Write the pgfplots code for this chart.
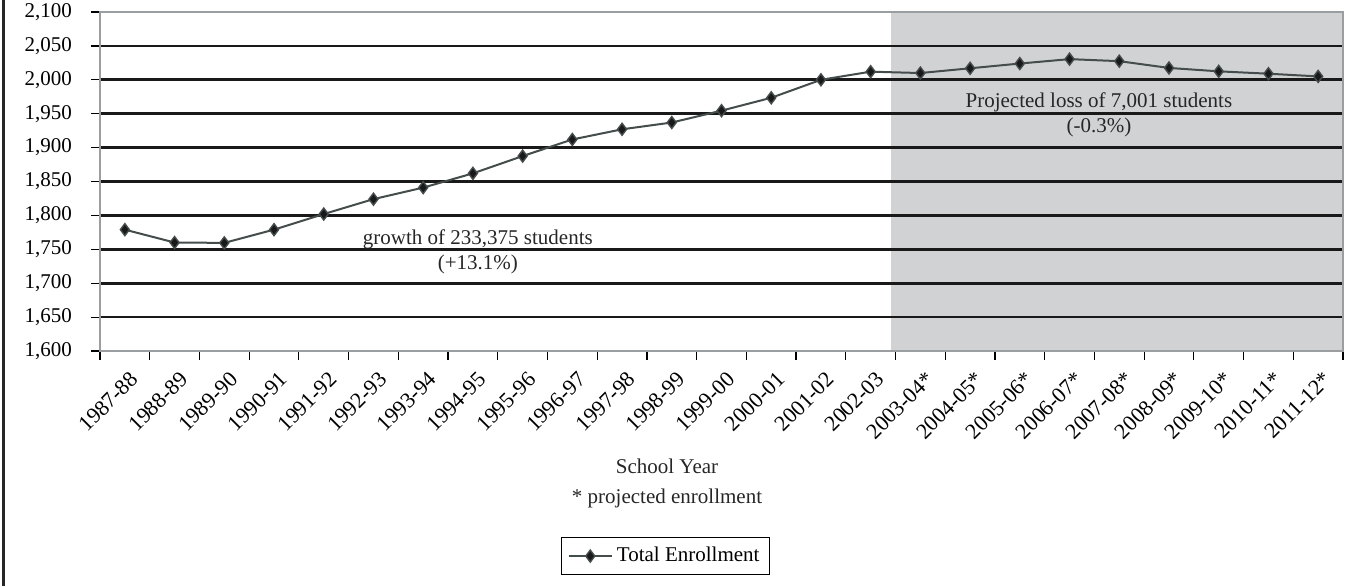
\documentclass[border=0pt]{standalone}
\usepackage{pgfplots}
\pgfplotsset{compat=1.18}
\usepackage{fontspec}
\setmainfont{Liberation Serif}
\definecolor{shade}{HTML}{D1D2D4}
\definecolor{axgray}{HTML}{9A9EA0}
\definecolor{linec}{HTML}{444C4C}
\begin{document}
\begin{tikzpicture}
\begin{axis}[
  at={(50pt,117.5pt)}, anchor=south west,
  scale only axis, width=621.5pt, height=169.5pt,
  xmin=0, xmax=25, ymin=1600, ymax=2100,
  set layers,
  axis line style={axgray, line width=1.2pt},
  font=\fontsize{10.5}{12.5}\selectfont,
  ytick={1600,1650,...,2100},
  extra y ticks={1650,1700,...,2050},
  extra y tick labels={},
  extra y tick style={grid=major},
  grid style={black!90, line width=1.35pt},
  xtick={0.5,1.5,...,24.5},
  xticklabels={1987-88,1988-89,1989-90,1990-91,1991-92,1992-93,1993-94,1994-95,1995-96,1996-97,1997-98,1998-99,1999-00,2000-01,2001-02,2002-03,2003-04*,2004-05*,2005-06*,2006-07*,2007-08*,2008-09*,2009-10*,2010-11*,2011-12*},
  minor xtick={0,1,...,25},
  major x tick style={draw=none},
  tick pos=left,
  tick align=outside, major tick length=4.5pt, minor tick length=4.5pt,
  tick style={black, line width=0.6pt},
  xticklabel style={rotate=45, anchor=north east, inner sep=1pt, yshift=-4pt, xshift=-1pt, font=\fontsize{11}{13}\selectfont},
  yticklabel style={xshift=-6pt, /pgf/number format/assume math mode=true, /pgf/number format/1000 sep={,}},
  legend style={at={(0.455,-0.605)}, anchor=center, draw=black, line width=0.6pt, font=\fontsize{10.5}{12.5}\selectfont, inner sep=3pt},
  legend image code/.code={\draw[mark repeat=2,mark phase=2,#1] plot coordinates {(0cm,0cm) (0.38cm,0cm) (0.76cm,0cm)};},
]
\begin{pgfonlayer}{axis background}
\addplot[fill=shade, draw=none, forget plot] coordinates {(15.9,1600) (15.9,2100) (25,2100) (25,1600)};
\end{pgfonlayer}
\addplot[linec, line width=1pt, mark=diamond*, mark size=3pt, mark options={fill=black!90, draw=linec, line width=0.7pt}] coordinates {
(0.5,1779) (1.5,1760) (2.5,1759.5) (3.5,1779) (4.5,1802) (5.5,1824) (6.5,1841) (7.5,1862) (8.5,1887.5) (9.5,1912) (10.5,1927) (11.5,1937) (12.5,1954.5) (13.5,1973.5) (14.5,2000) (15.5,2012)
(16.5,2010) (17.5,2017) (18.5,2024) (19.5,2030.5) (20.5,2027.5) (21.5,2017.5) (22.5,2012.5) (23.5,2009) (24.5,2005)};
\addlegendentry{Total Enrollment}
\node[align=center, text=black!85, font=\fontsize{10.5}{12.5}\selectfont] at (axis cs:7.6,1747) {growth of 233,375 students\\(+13.1\%)};
\node[align=center, text=black!85, font=\fontsize{10.5}{12.5}\selectfont] at (axis cs:20.09,1948) {Projected loss of 7,001 students\\(-0.3\%)};
\end{axis}
\node[align=center, font=\fontsize{10.5}{15}\selectfont, text=black!85] at (333.5pt,51.5pt) {School Year\\* projected enrollment};
\draw[line width=1.5pt, black!85] (1.75pt,0) -- (1.75pt,293pt);
\pgfresetboundingbox
\useasboundingbox (0,0) rectangle (676.5pt,293pt);
\end{tikzpicture}
\end{document}
